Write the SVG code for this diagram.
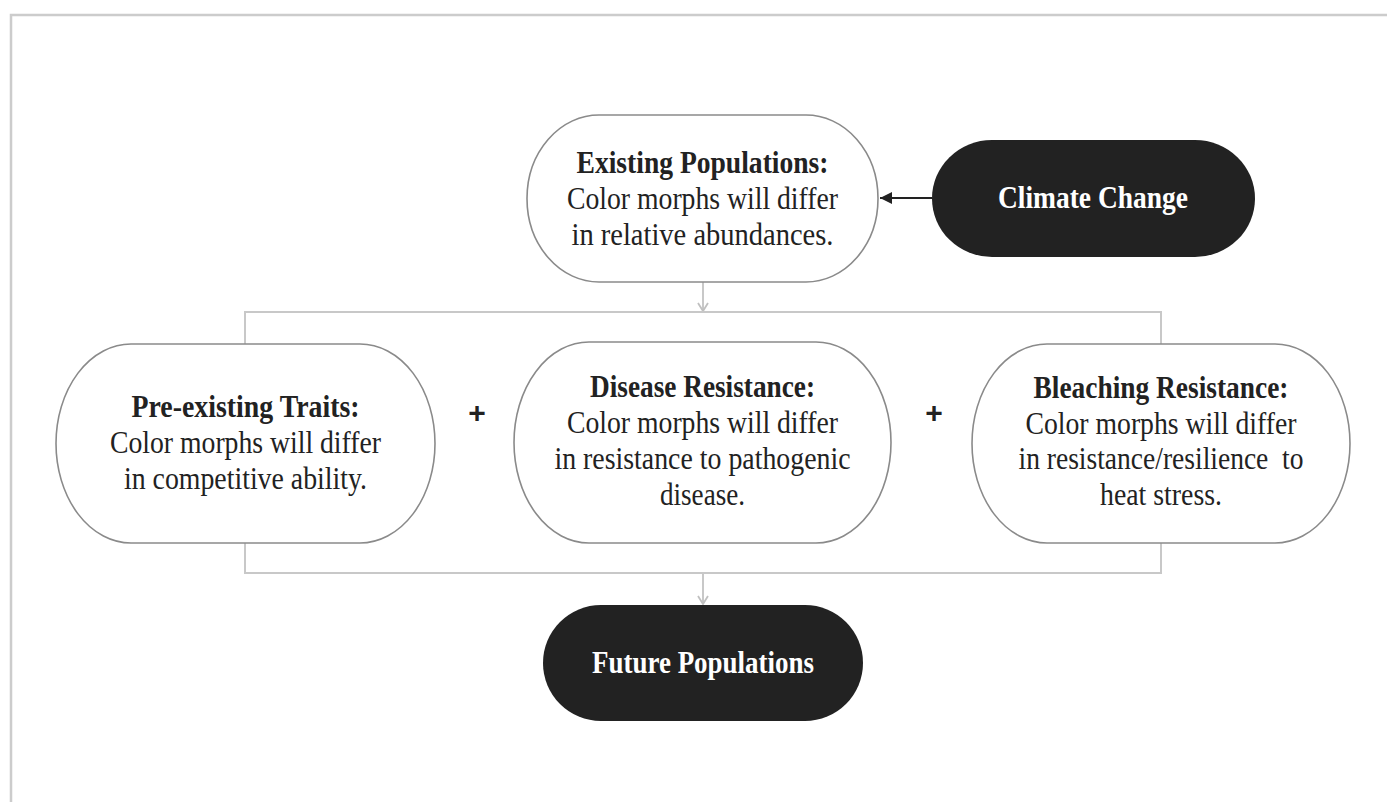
<svg xmlns="http://www.w3.org/2000/svg" width="1387" height="802" viewBox="0 0 1387 802">
  <style>
    .frame { fill: none; stroke: #cccccc; stroke-width: 2.5; }
    .box { fill: #ffffff; stroke: #8a8a8a; stroke-width: 1.6; }
    .dark { fill: #222222; stroke: none; }
    .link { fill: none; stroke: #c8c8c8; stroke-width: 2; }
    .cause { fill: none; stroke: #222222; stroke-width: 2; }
    text { font-family: "Liberation Serif", "Times New Roman", serif; font-size: 31px; text-anchor: middle; fill: #222222; }
    .title { font-weight: bold; }
    .light { fill: #ffffff; font-weight: bold; }
    .plus { font-family: "Liberation Sans", Arial, sans-serif; font-weight: bold; font-size: 30px; }
    .pre { white-space: pre; }
  </style>
  <defs>
    <marker id="openHead" markerWidth="12" markerHeight="12" refX="10" refY="6" orient="auto" markerUnits="userSpaceOnUse">
      <path d="M2,1 L10,6 L2,11" fill="none" stroke="#c0c0c0" stroke-width="1.8"/>
    </marker>
    <marker id="solidHead" markerWidth="14" markerHeight="14" refX="12" refY="7" orient="auto" markerUnits="userSpaceOnUse">
      <path d="M0,1 L12,7 L0,13 Z" fill="#222222"/>
    </marker>
  </defs>

  <rect width="1387" height="802" fill="#ffffff"/>
  <path class="frame" d="M11,802 V15 H1387"/>

  <g id="connectors">
    <line class="cause" x1="932" y1="198" x2="880" y2="198" marker-end="url(#solidHead)"/>
    <line class="link" x1="703" y1="282" x2="703" y2="311" marker-end="url(#openHead)"/>
    <path class="link" d="M245,345 V312 H1161 V345"/>
    <path class="link" d="M245,543 V573 H1161 V543"/>
    <line class="link" x1="703" y1="573" x2="703" y2="604" marker-end="url(#openHead)"/>
  </g>

  <g id="existing-populations">
    <rect class="box" x="527" y="115" width="351" height="167" rx="72" ry="83.5"/>
    <text class="title" x="702.5" y="173" textLength="252" lengthAdjust="spacingAndGlyphs">Existing Populations:</text>
    <text x="702.5" y="209" textLength="271" lengthAdjust="spacingAndGlyphs">Color morphs will differ</text>
    <text x="702.5" y="245" textLength="262" lengthAdjust="spacingAndGlyphs">in relative abundances.</text>
  </g>

  <g id="climate-change">
    <rect class="dark" x="932" y="140" width="323" height="117" rx="60" ry="58.5"/>
    <text class="light" x="1093" y="208" textLength="190" lengthAdjust="spacingAndGlyphs">Climate Change</text>
  </g>

  <g id="pre-existing-traits">
    <rect class="box" x="56" y="344" width="379" height="199" rx="75" ry="99.5"/>
    <text class="title" x="245.5" y="417" textLength="228" lengthAdjust="spacingAndGlyphs">Pre-existing Traits:</text>
    <text x="245.5" y="453" textLength="271" lengthAdjust="spacingAndGlyphs">Color morphs will differ</text>
    <text x="245.5" y="489" textLength="243" lengthAdjust="spacingAndGlyphs">in competitive ability.</text>
  </g>

  <text class="plus" x="477" y="423">+</text>

  <g id="disease-resistance">
    <rect class="box" x="514" y="342" width="377" height="201" rx="75" ry="100.5"/>
    <text class="title" x="702.5" y="397" textLength="225" lengthAdjust="spacingAndGlyphs">Disease Resistance:</text>
    <text x="702.5" y="433" textLength="271" lengthAdjust="spacingAndGlyphs">Color morphs will differ</text>
    <text x="702.5" y="469" textLength="296" lengthAdjust="spacingAndGlyphs">in resistance to pathogenic</text>
    <text x="702.5" y="505" textLength="85" lengthAdjust="spacingAndGlyphs">disease.</text>
  </g>

  <text class="plus" x="934" y="423">+</text>

  <g id="bleaching-resistance">
    <rect class="box" x="972" y="344" width="378" height="199" rx="75" ry="99.5"/>
    <text class="title" x="1161" y="398" textLength="255" lengthAdjust="spacingAndGlyphs">Bleaching Resistance:</text>
    <text x="1161" y="434" textLength="271" lengthAdjust="spacingAndGlyphs">Color morphs will differ</text>
    <text class="pre" x="1161" y="469" textLength="285" lengthAdjust="spacingAndGlyphs">in resistance/resilience  to</text>
    <text x="1161" y="505" textLength="122" lengthAdjust="spacingAndGlyphs">heat stress.</text>
  </g>

  <g id="future-populations">
    <rect class="dark" x="543" y="605" width="320" height="116" rx="58" ry="58"/>
    <text class="light" x="703" y="673" textLength="222" lengthAdjust="spacingAndGlyphs">Future Populations</text>
  </g>
</svg>
